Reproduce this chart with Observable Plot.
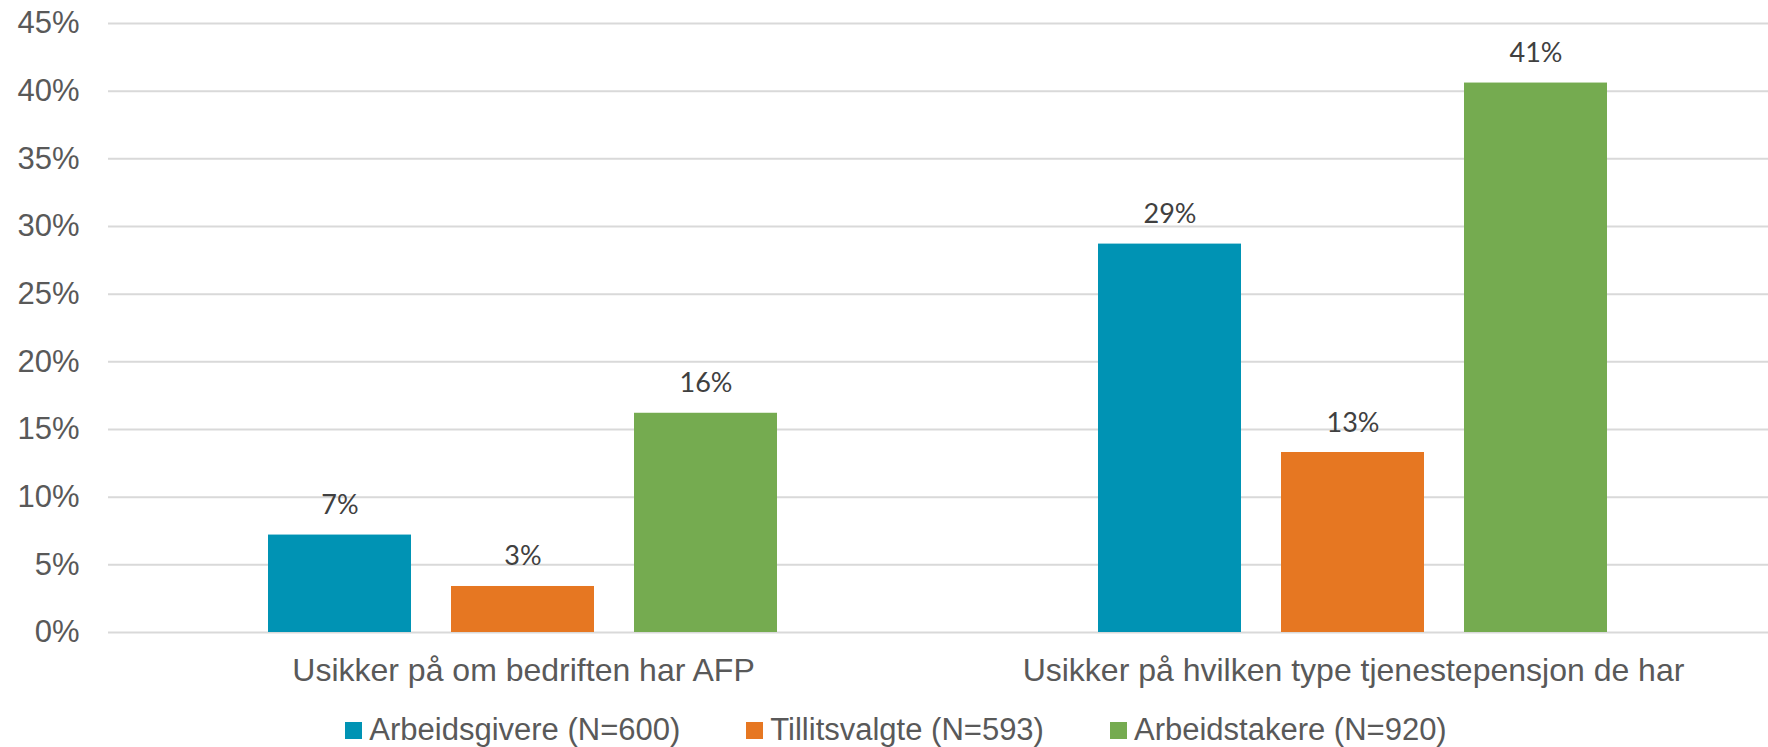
<!DOCTYPE html>
<html><head><meta charset="utf-8">
<script src="https://cdn.jsdelivr.net/npm/d3@7"></script>
<script src="https://cdn.jsdelivr.net/npm/@observablehq/plot@0.6"></script>
<style>
body{margin:0;background:#fff;font-family:"Liberation Sans",Arial,sans-serif;}
#legend{display:flex;justify-content:center;align-items:center;margin-top:12px;padding-left:24px;height:36px;font-size:31px;color:#595959;line-height:36px;}
.item{display:flex;align-items:center;margin:0 33px;}
.sw{width:17px;height:17px;margin-right:7px;}
</style></head><body>
<div id="chart"></div><div id="legend"></div>
<script>
const categories = ["Usikker på om bedriften har AFP", "Usikker på hvilken type tjenestepensjon de har"];
const seriesNames = ["Arbeidsgivere (N=600)", "Tillitsvalgte (N=593)", "Arbeidstakere (N=920)"];
const arbeidsgivere = [7.2, 28.7];
const tillitsvalgte = [3.4, 13.3];
const arbeidstakere = [16.2, 40.6];
const colors = ["#0093B4", "#E67722", "#75AB50"];
const yTicks = [0, 5, 10, 15, 20, 25, 30, 35, 40, 45];

const seriesValues = [arbeidsgivere, tillitsvalgte, arbeidstakere];
const data = [];
categories.forEach((c, i) => seriesNames.forEach((s, j) => data.push({cat: c, series: s, value: seriesValues[j][i]})));

const chart = Plot.plot({
  width: 1768, height: 700,
  marginLeft: 107, marginRight: 0, marginTop: 23, marginBottom: 68,
  style: {fontFamily: '"Liberation Sans", Arial, sans-serif', background: "white"},
  fx: {domain: categories, padding: 0, label: null, axis: null},
  x: {domain: seriesNames, paddingInner: 0.217, paddingOuter: 0.865, axis: null},
  y: {domain: [0, 45], axis: null},
  color: {domain: seriesNames, range: colors},
  marks: [
    Plot.gridY(yTicks, {stroke: "#d9d9d9", strokeOpacity: 1, strokeWidth: 2}),
    Plot.axisY(yTicks, {tickSize: 0, tickPadding: 29, fontSize: 31, fill: "#595959", tickFormat: d => d + "%", label: null}),
    Plot.axisFx({anchor: "bottom", tickSize: 0, tickPadding: 26, fontSize: 32, fill: "#595959", label: null}),
    Plot.barY(data, {fx: "cat", x: "series", y: "value", fill: "series"}),
    Plot.text(data, {fx: "cat", x: "series", y: "value", text: d => Math.round(d.value) + "%", lineAnchor: "bottom", dy: -21, fontSize: 27, fill: "#404040", fontFamily: "Lato"})
  ]
});
document.getElementById("chart").appendChild(chart);

const legend = document.getElementById("legend");
seriesNames.forEach((s, i) => {
  const it = document.createElement("div"); it.className = "item";
  const sw = document.createElement("span"); sw.className = "sw"; sw.style.background = colors[i];
  const t = document.createElement("span"); t.textContent = s;
  it.appendChild(sw); it.appendChild(t); legend.appendChild(it);
});
</script>
</body></html>
